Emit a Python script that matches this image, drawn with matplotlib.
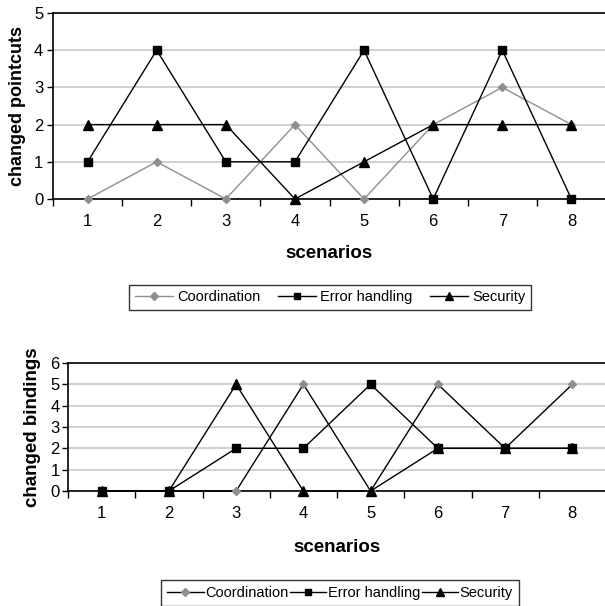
import matplotlib
matplotlib.use("Agg")
import matplotlib.pyplot as plt
from matplotlib.lines import Line2D

plt.rcParams['font.family'] = ['Liberation Sans', 'DejaVu Sans']

scenarios = [1, 2, 3, 4, 5, 6, 7, 8]
series_names = ["Coordination", "Error handling", "Security"]

# changed pointcuts per scenario
pc_coordination = [0, 1, 0, 2, 0, 2, 3, 2]
pc_error = [1, 4, 1, 1, 4, 0, 4, 0]
pc_security = [2, 2, 2, 0, 1, 2, 2, 2]

# changed bindings per scenario
bd_coordination = [0, 0, 0, 5, 0, 5, 2, 5]
bd_error = [0, 0, 2, 2, 5, 2, 2, 2]
bd_security = [0, 0, 5, 0, 0, 2, 2, 2]

GRAY = "#8f8f8f"
GRID = "#c8c8c8"

W, H = 605, 606
fig = plt.figure(figsize=(W / 100, H / 100), dpi=100)


def px_axes(left, top, right, bottom):
    return fig.add_axes([left / W, 1 - bottom / H, (right - left) / W, (bottom - top) / H])


def style_axes(ax, ymax, ylabel, label_size):
    ax.set_xlim(0.5, 8.5)
    ax.set_ylim(0, ymax)
    ax.set_yticks(range(0, ymax + 1))
    ax.set_xticks(scenarios)
    ax.set_xticks([b + 0.5 for b in range(0, 9)], minor=True)
    ax.tick_params(axis='x', which='major', length=0, pad=11, labelsize=12)
    ax.tick_params(axis='x', which='minor', length=5, width=1, direction='out')
    ax.tick_params(axis='y', length=4, width=1, direction='out', labelsize=12, pad=3)
    ax.grid(axis='y', color=GRID, linewidth=1.2)
    ax.set_axisbelow(True)
    for s in ['left', 'bottom', 'top']:
        ax.spines[s].set_color('black')
        ax.spines[s].set_linewidth(1.2)
    ax.spines['right'].set_visible(False)
    ax.set_ylabel(ylabel, fontsize=label_size, fontweight='bold')
    ax.set_xlabel("scenarios", fontsize=13.5, fontweight='bold')


def plot_series(ax, coord, err, sec, coord_line, sq, tri):
    ax.plot(scenarios, coord, color=coord_line, lw=1, marker='D', ms=4.5,
            mfc=GRAY, mec=GRAY, zorder=3, clip_on=False)
    ax.plot(scenarios, err, color='black', lw=1, marker='s', ms=sq,
            mfc='black', mec='black', zorder=4, clip_on=False)
    ax.plot(scenarios, sec, color='black', lw=1, marker='^', ms=tri,
            mfc='black', mec='black', zorder=5, clip_on=False)


def legend_handles(coord_line):
    return [
        Line2D([], [], color=coord_line, lw=1, marker='D', ms=4, mfc=GRAY, mec=GRAY),
        Line2D([], [], color='black', lw=1, marker='s', ms=5, mfc='black', mec='black'),
        Line2D([], [], color='black', lw=1, marker='^', ms=6, mfc='black', mec='black'),
    ]


# top chart: changed pointcuts
ax1 = px_axes(53, 13, 606, 199)
plot_series(ax1, pc_coordination, pc_error, pc_security, GRAY, 5.5, 7)
style_axes(ax1, 5, "changed pointcuts", 13)
ax1.xaxis.labelpad = 11
ax1.yaxis.labelpad = 6

leg1 = fig.legend(legend_handles(GRAY), series_names, loc='center',
                  bbox_to_anchor=(330 / W, 1 - 297.5 / H), ncol=3, frameon=True,
                  fancybox=False, edgecolor='black', fontsize=10.5, handlelength=2.6,
                  handletextpad=0.3, columnspacing=1.2, borderpad=0.4)
leg1.get_frame().set_linewidth(1)

# bottom chart: changed bindings
ax2 = px_axes(68, 363, 606, 491)
plot_series(ax2, bd_coordination, bd_error, bd_security, 'black', 6, 7)
style_axes(ax2, 6, "changed bindings", 13.5)
ax2.tick_params(axis='y', pad=2)
ax2.xaxis.labelpad = 13
ax2.yaxis.labelpad = 7

leg2 = fig.legend(legend_handles('black'), series_names, loc='center',
                  bbox_to_anchor=(340 / W, 1 - 593 / H), ncol=3, frameon=True,
                  fancybox=False, edgecolor='black', fontsize=10.5, handlelength=2.5,
                  handletextpad=0.1, columnspacing=0.1, borderpad=0.4)
leg2.get_frame().set_linewidth(1)

fig.savefig("out.png", dpi=100)
